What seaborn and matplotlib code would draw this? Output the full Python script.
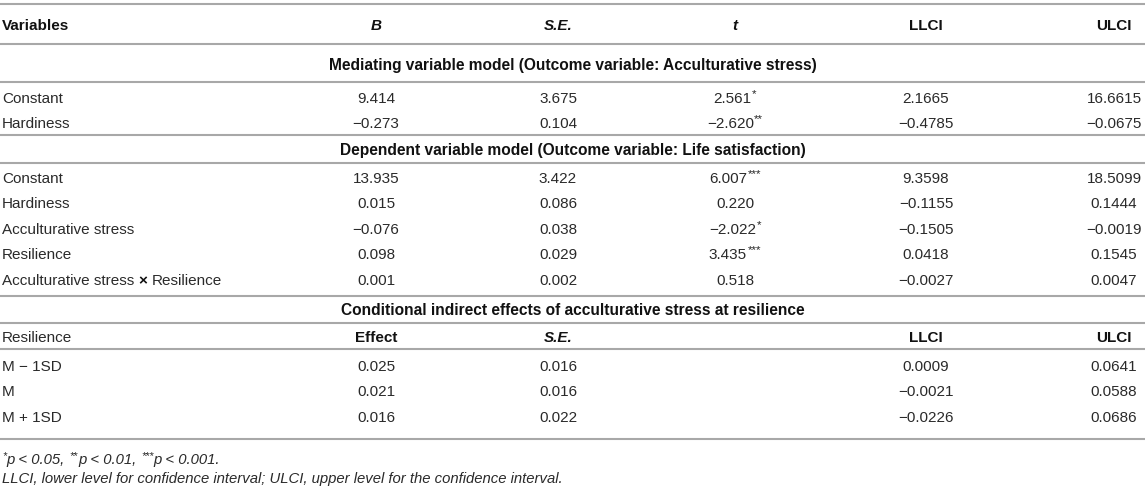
import matplotlib
matplotlib.use("Agg")
import matplotlib.pyplot as plt
import seaborn as sns

# ---------------- data ----------------
header_cols = ["Variables", "B", "S.E.", "t", "LLCI", "ULCI"]

title1 = "Mediating variable model (Outcome variable: Acculturative stress)"
vars1 = ["Constant", "Hardiness"]
B1 = [9.414, -0.273]
SE1 = [3.675, 0.104]
t1 = [2.561, -2.620]
sig1 = ["*", "**"]
LL1 = [2.1665, -0.4785]
UL1 = [16.6615, -0.0675]

title2 = "Dependent variable model (Outcome variable: Life satisfaction)"
vars2 = ["Constant", "Hardiness", "Acculturative stress", "Resilience",
         "Acculturative stress × Resilience"]
B2 = [13.935, 0.015, -0.076, 0.098, 0.001]
SE2 = [3.422, 0.086, 0.038, 0.029, 0.002]
t2 = [6.007, 0.220, -2.022, 3.435, 0.518]
sig2 = ["***", "", "*", "***", ""]
LL2 = [9.3598, -0.1155, -0.1505, 0.0418, -0.0027]
UL2 = [18.5099, 0.1444, -0.0019, 0.1545, 0.0047]

title3 = "Conditional indirect effects of acculturative stress at resilience"
header3_cols = ["Resilience", "Effect", "S.E.", "", "LLCI", "ULCI"]
levels3 = ["M − 1SD", "M", "M + 1SD"]
effect3 = [0.025, 0.021, 0.016]
SE3 = [0.016, 0.016, 0.022]
LL3 = [0.0009, -0.0021, -0.0226]
UL3 = [0.0641, 0.0588, 0.0686]

note_stars = ["*", "**", "***"]
note_levels = ["p < 0.05,", "p < 0.01,", "p < 0.001."]
footnote2 = "LLCI, lower level for confidence interval; ULCI, upper level for the confidence interval."

# ---------------- style ----------------
sns.set_theme(style="white")
plt.rcParams["font.family"] = ["Liberation Sans", "DejaVu Sans"]

TXT = "#2a2a2a"
DARK = "#111111"
RULE = "#a8a8a8"
FS = 11.0
FS_TITLE = 11.2
FS_NOTE = 10.7

W, H = 1145, 486
fig = plt.figure(figsize=(W / 100, H / 100), dpi=100)
ax = fig.add_axes([0, 0, 1, 1])
ax.set_xlim(0, W)
ax.set_ylim(H, 0)
ax.axis("off")
renderer = fig.canvas.get_renderer()

# layout (pixels)
col_x = [2, 376, 558, 735, 926, 1114]
rules = [4, 44, 82, 135, 163, 296, 323, 349, 439]
ROW_DY = 25.6


def fmt(v, d):
    return f"{v:.{d}f}".replace("-", "\u2212")


def draw_runs(x, yc, runs, ha="center"):
    """runs: list of (text, size, weight, style, rise_px, gap_after_px, color)"""
    arts, widths = [], []
    for (s, size, weight, style, rise, gap, color) in runs:
        base = yc + 0.36 * size * 100 / 72
        t = ax.text(0, base - rise, s, ha="left", va="baseline", fontsize=size,
                    fontweight=weight, fontstyle=style, color=color)
        w = t.get_window_extent(renderer=renderer).width
        arts.append(t)
        widths.append(w + gap)
    total = sum(widths) - runs[-1][5]
    if ha == "center":
        x0 = x - total / 2
    elif ha == "right":
        x0 = x - total
    else:
        x0 = x
    for t, w in zip(arts, widths):
        t.set_x(x0)
        x0 += w


def cell(x, y, s, ha="center", weight="normal", style="normal", size=FS, color=TXT):
    draw_runs(x, y, [(s, size, weight, style, 0, 0, color)], ha=ha)


def star_cell(x, y, num, stars):
    runs = [(num, FS, "normal", "normal", 0, 0.5, TXT)]
    if stars:
        runs.append((stars, FS * 0.75, "normal", "normal", 4.5, 0, TXT))
    draw_runs(x, y, runs)


def name_cell(x, y, name):
    if "×" in name:
        a, b = name.split("×")
        sp = 4.2
        draw_runs(x, y, [(a.strip(), FS, "normal", "normal", 0, sp, TXT),
                         ("×", FS, "bold", "normal", 0, sp, DARK),
                         (b.strip(), FS, "normal", "normal", 0, 0, TXT)], ha="left")
    else:
        cell(x, y, name, ha="left")


for r in rules:
    ax.axhline(r, color=RULE, lw=1.5)

# header
hdr_style = ["normal", "italic", "italic", "italic", "normal", "normal"]
for i, h in enumerate(header_cols):
    cell(col_x[i], 24, h, ha="left" if i == 0 else "center", weight="bold",
         style=hdr_style[i], color=DARK)


def block(y0, names, B, SE, tv, sig, LL, UL):
    for r, name in enumerate(names):
        y = y0 + r * ROW_DY
        name_cell(col_x[0], y, name)
        cell(col_x[1], y, fmt(B[r], 3))
        cell(col_x[2], y, fmt(SE[r], 3))
        if tv is not None:
            star_cell(col_x[3], y, fmt(tv[r], 3), sig[r])
        cell(col_x[4], y, fmt(LL[r], 4))
        cell(col_x[5], y, fmt(UL[r], 4))


# section 1
cell(W / 2, 64, title1, weight="bold", size=FS_TITLE, color=DARK)
block(97, vars1, B1, SE1, t1, sig1, LL1, UL1)

# section 2
cell(W / 2, 149, title2, weight="bold", size=FS_TITLE, color=DARK)
block(177, vars2, B2, SE2, t2, sig2, LL2, UL2)

# section 3
cell(W / 2, 309, title3, weight="bold", size=FS_TITLE, color=DARK)
h3_style = ["normal", "normal", "italic", "normal", "normal", "normal"]
for i, h in enumerate(header3_cols):
    if not h:
        continue
    cell(col_x[i], 336, h, ha="left" if i == 0 else "center",
         weight="normal" if i == 0 else "bold", style=h3_style[i],
         color=TXT if i == 0 else DARK)
block(365, levels3, effect3, SE3, None, None, LL3, UL3)

# footnotes
runs = []
for k, (st, lv) in enumerate(zip(note_stars, note_levels)):
    runs.append((st, FS_NOTE * 0.72, "normal", "italic", 4.2, 0.5, TXT))
    runs.append((lv, FS_NOTE, "normal", "italic", 0, 4.5, TXT))
draw_runs(2, 459, runs, ha="left")
cell(2, 478, footnote2, ha="left", style="italic", size=FS_NOTE)

fig.savefig("out.png", dpi=100)
